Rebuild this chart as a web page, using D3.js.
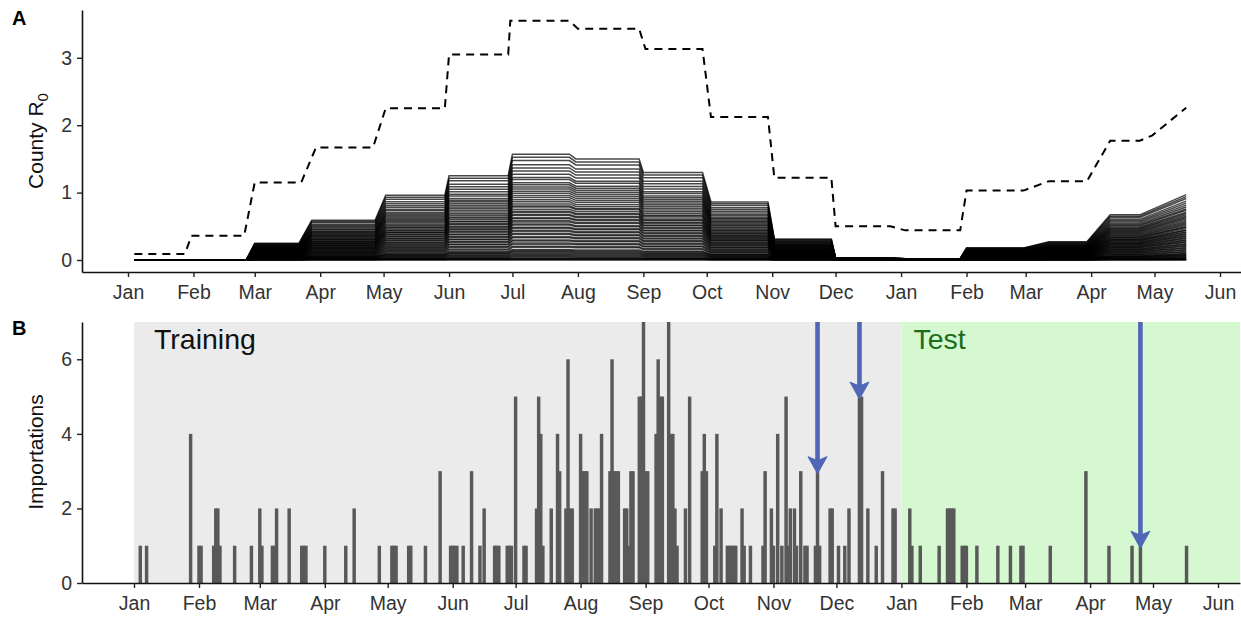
<!DOCTYPE html>
<html><head><meta charset="utf-8">
<script src="https://cdn.jsdelivr.net/npm/d3@7"></script>
<style>body{margin:0;background:#fff} svg{display:block}</style>
</head><body>
<svg id="c" width="1241" height="617"></svg>
<script>
// ---------------- DATA ----------------
// Panel A: dashed R0 curve (upper reference curve)
const r0MaxDates = ["2016-01-04","2016-01-28","2016-01-31","2016-02-25","2016-03-01","2016-03-23","2016-03-30","2016-04-26","2016-05-02","2016-05-30","2016-06-01","2016-06-29","2016-06-30","2016-07-28","2016-08-01","2016-08-30","2016-09-02","2016-09-29","2016-10-03","2016-10-30","2016-11-02","2016-11-29","2016-12-01","2016-12-27","2017-01-03","2017-01-29","2017-02-01","2017-02-28","2017-03-12","2017-03-30","2017-04-10","2017-04-24","2017-04-30","2017-05-16"];
const r0MaxValues = [0.09,0.09,0.36,0.36,1.15,1.15,1.67,1.67,2.25,2.25,3.05,3.05,3.55,3.55,3.43,3.43,3.13,3.13,2.12,2.12,1.22,1.22,0.50,0.50,0.44,0.44,1.03,1.03,1.17,1.17,1.77,1.77,1.85,2.26];
// Panel A: upper envelope of the county R0 curves
const countyEnvDates = ["2016-01-04","2016-02-26","2016-03-01","2016-03-22","2016-03-28","2016-04-27","2016-05-02","2016-05-30","2016-06-01","2016-06-29","2016-07-01","2016-07-28","2016-07-31","2016-08-30","2016-09-01","2016-09-29","2016-10-03","2016-10-30","2016-11-02","2016-11-29","2016-12-01","2016-12-27","2017-01-03","2017-01-29","2017-02-01","2017-02-28","2017-03-12","2017-03-30","2017-04-10","2017-04-24","2017-05-16"];
const countyEnvValues = [0,0,0.25,0.25,0.59,0.59,0.96,0.96,1.25,1.25,1.57,1.57,1.50,1.50,1.30,1.30,0.86,0.86,0.31,0.31,0.03,0.03,0.02,0.02,0.18,0.18,0.27,0.27,0.67,0.67,0.97];
// relative level of each county curve within the envelope
const countyShares = [1.00,0.97,0.94,0.90,0.87,0.84,0.81,0.78,0.76,0.73,0.71,0.69,0.67,0.65,0.63,0.61,0.59,0.57,0.55,0.53,0.51,0.50,0.48,0.46,0.45,0.43,0.42,0.40,0.39,0.37,0.36,0.34,0.33,0.31,0.30,0.28,0.27,0.25,0.24,0.22,0.21,0.19,0.18,0.16,0.15,0.13,0.12,0.10,0.09,0.08,0.07,0.06,0.05,0.04,0.03,0.02,0.015,0.01,0.005,0];

// Panel B: daily importations
const importDates = ["2016-01-04","2016-01-07","2016-01-28","2016-02-01","2016-02-02","2016-02-08","2016-02-09","2016-02-10","2016-02-11","2016-02-18","2016-02-26","2016-03-01","2016-03-02","2016-03-07","2016-03-08","2016-03-09","2016-03-15","2016-03-21","2016-03-22","2016-03-23","2016-04-01","2016-04-11","2016-04-15","2016-04-27","2016-05-03","2016-05-04","2016-05-05","2016-05-11","2016-05-12","2016-05-19","2016-05-26","2016-05-31","2016-06-01","2016-06-02","2016-06-03","2016-06-06","2016-06-10","2016-06-14","2016-06-16","2016-06-21","2016-06-22","2016-06-23","2016-06-27","2016-06-28","2016-06-29","2016-07-01","2016-07-05","2016-07-06","2016-07-11","2016-07-12","2016-07-13","2016-07-14","2016-07-18","2016-07-21","2016-07-22","2016-07-25","2016-07-26","2016-07-27","2016-07-28","2016-08-01","2016-08-02","2016-08-03","2016-08-04","2016-08-06","2016-08-08","2016-08-09","2016-08-10","2016-08-11","2016-08-15","2016-08-16","2016-08-17","2016-08-18","2016-08-19","2016-08-22","2016-08-23","2016-08-24","2016-08-25","2016-08-26","2016-08-29","2016-08-30","2016-08-31","2016-09-01","2016-09-02","2016-09-06","2016-09-07","2016-09-08","2016-09-09","2016-09-12","2016-09-13","2016-09-14","2016-09-15","2016-09-16","2016-09-20","2016-09-22","2016-09-28","2016-09-29","2016-09-30","2016-10-04","2016-10-05","2016-10-07","2016-10-10","2016-10-11","2016-10-12","2016-10-13","2016-10-14","2016-10-17","2016-10-18","2016-10-21","2016-10-27","2016-10-28","2016-10-31","2016-11-01","2016-11-03","2016-11-05","2016-11-07","2016-11-08","2016-11-09","2016-11-11","2016-11-12","2016-11-14","2016-11-16","2016-11-17","2016-11-21","2016-11-22","2016-11-23","2016-11-28","2016-11-29","2016-12-02","2016-12-05","2016-12-07","2016-12-12","2016-12-13","2016-12-16","2016-12-20","2016-12-23","2016-12-28","2016-12-29","2017-01-05","2017-01-06","2017-01-10","2017-01-19","2017-01-23","2017-01-24","2017-01-25","2017-01-26","2017-01-30","2017-01-31","2017-02-01","2017-02-06","2017-02-16","2017-02-22","2017-02-27","2017-02-28","2017-03-13","2017-03-30","2017-04-10","2017-04-21","2017-04-25","2017-05-17"];
const importCounts = [1,1,4,1,1,1,2,2,1,1,1,2,1,1,1,2,2,1,1,1,1,1,2,1,1,1,1,1,1,1,3,1,1,1,1,1,3,1,2,1,1,1,1,1,1,5,1,1,2,5,4,1,2,4,3,2,6,2,2,4,3,3,3,2,2,2,2,4,3,6,3,3,3,2,2,1,3,3,5,5,7,3,3,4,6,5,5,7,4,4,2,1,2,5,3,4,3,1,4,2,1,1,1,1,1,2,1,1,1,3,2,1,4,1,5,1,2,2,1,3,1,1,1,3,1,2,2,1,1,2,5,5,2,1,3,2,2,2,1,1,1,2,2,2,2,1,1,1,1,1,1,1,1,1,3,1,1,1,1];

const periodNames = ["Training", "Test"];
const periodStarts = ["2016-01-01", "2017-01-01"];
const arrowDates = ["2016-11-22", "2016-12-12", "2017-04-25"];
const arrowValues = [3, 5, 1];
const yTicksA = [0, 1, 2, 3];
const yTicksB = [0, 2, 4, 6];

// ---------------- CHART ----------------
const svg = d3.select("#c");
const P = d3.utcParse("%Y-%m-%d");
const FONT = "'Liberation Sans', Arial, Helvetica, sans-serif";

// Panel A scales
const xA0 = d3.scaleUtc().domain([P("2016-01-01"), P("2017-06-01")]).range([128, 1220]);
const xA = d3.scaleUtc().domain([xA0.invert(82), xA0.invert(1241)]).range([82, 1241]);
const yA0 = d3.scaleLinear().domain([0, 3]).range([260, 57.8]);
const yA = d3.scaleLinear().domain([yA0.invert(272), yA0.invert(10)]).range([272, 10]);

// Panel B scales
const xB0 = d3.scaleUtc().domain([P("2016-01-01"), P("2017-06-01")]).range([134, 1218]);
const xB = d3.scaleUtc().domain([xB0.invert(82), xB0.invert(1240)]).range([82, 1240]);
const yB = d3.scaleLinear().domain([0, 7]).range([583, 322]);

function styleAxis(g) {
  g.select(".domain").attr("stroke", "#111").attr("stroke-width", 1.6);
  g.selectAll(".tick line").attr("stroke", "#222").attr("stroke-width", 1.4);
  g.selectAll(".tick text").attr("fill", "#333").style("font-family", FONT).style("font-size", "19.5px");
}

// ---- Panel A ----
const gA = svg.append("g");
const lineA = d3.line().x(d => xA(d[0])).y(d => yA(d[1]));
const envDates = countyEnvDates.map(P);
countyShares.forEach(s => {
  const pts = envDates.map((d, i) => [d, countyEnvValues[i] * s]);
  gA.append("path").attr("d", lineA(pts)).attr("fill", "none")
    .attr("stroke", "#000").attr("stroke-opacity", 0.72).attr("stroke-width", 1.5);
});
const maxPts = r0MaxDates.map((d, i) => [P(d), r0MaxValues[i]]);
gA.append("path").attr("d", lineA(maxPts)).attr("fill", "none")
  .attr("stroke", "#000").attr("stroke-width", 2).attr("stroke-dasharray", "8,6");

const axA_x = gA.append("g").attr("transform", "translate(0,272)")
  .call(d3.axisBottom(xA).ticks(d3.utcMonth.every(1)).tickFormat(d3.utcFormat("%b")).tickSize(5).tickSizeOuter(0).tickPadding(8));
styleAxis(axA_x);
const axA_y = gA.append("g").attr("transform", "translate(82,0)")
  .call(d3.axisLeft(yA).tickValues(yTicksA).tickFormat(d3.format("d")).tickSize(5).tickSizeOuter(0).tickPadding(5));
styleAxis(axA_y);

const tA = gA.append("text").attr("transform", "translate(43,141) rotate(-90)")
  .attr("text-anchor", "middle").style("font-family", FONT).style("font-size", "21px").attr("fill", "#111");
tA.append("tspan").text("County R");
tA.append("tspan").text("0").attr("dy", "0.3em").style("font-size", "15px");

svg.append("text").attr("x", 12).attr("y", 25).text("A")
  .style("font-family", FONT).style("font-size", "20px").style("font-weight", "bold").attr("fill", "#000");

// ---- Panel B ----
const gB = svg.append("g");
const endB = xB.domain()[1];
const periodFills = ["#ebebeb", "#d6f8d0"];
const periodTextFill = ["#111", "#1d6b1d"];
const periodTextOffset = [20, 12];
periodNames.forEach((name, i) => {
  const s = P(periodStarts[i]);
  const e = i + 1 < periodStarts.length ? P(periodStarts[i + 1]) : endB;
  gB.append("rect").attr("x", xB(s)).attr("y", yB(7)).attr("width", xB(e) - xB(s)).attr("height", yB(0) - yB(7))
    .attr("fill", periodFills[i]);
  gB.append("text").attr("x", xB(s) + periodTextOffset[i]).attr("y", 349).text(name)
    .style("font-family", FONT).style("font-size", "28.5px").attr("fill", periodTextFill[i]);
});

gB.append("clipPath").attr("id", "clipB").append("rect")
  .attr("x", 82).attr("y", yB(7)).attr("width", 1240 - 82).attr("height", yB(0) - yB(7));
const dayPx = xB(P("2016-01-02")) - xB(P("2016-01-01"));
const barW = dayPx * 1.65;
gB.append("g").attr("clip-path", "url(#clipB)").selectAll("rect")
  .data(importDates.map((d, i) => ({ d: P(d), v: importCounts[i] })))
  .join("rect")
  .attr("x", o => xB(o.d) - barW / 2).attr("width", barW)
  .attr("y", o => yB(o.v)).attr("height", o => yB(0) - yB(o.v))
  .attr("fill", "#595959");

// arrows
const arrowCol = "#5066b6";
arrowDates.forEach((d, i) => {
  const x = xB(P(d));
  const tip = yB(arrowValues[i]) + 2.5;
  gB.append("line").attr("x1", x).attr("x2", x).attr("y1", yB(7)).attr("y2", tip - 12)
    .attr("stroke", arrowCol).attr("stroke-width", 4.6);
  gB.append("path").attr("d", `M${x},${tip} L${x - 9.5},${tip - 17} L${x},${tip - 13} L${x + 9.5},${tip - 17} Z`)
    .attr("fill", arrowCol).attr("stroke", arrowCol).attr("stroke-width", 1).attr("stroke-linejoin", "round");
});

const axB_x = gB.append("g").attr("transform", "translate(0,583)")
  .call(d3.axisBottom(xB).ticks(d3.utcMonth.every(1)).tickFormat(d3.utcFormat("%b")).tickSize(5).tickSizeOuter(0).tickPadding(8));
styleAxis(axB_x);
const axB_y = gB.append("g").attr("transform", "translate(82,0)")
  .call(d3.axisLeft(yB).tickValues(yTicksB).tickFormat(d3.format("d")).tickSize(5).tickSizeOuter(0).tickPadding(5));
styleAxis(axB_y);

gB.append("text").attr("transform", "translate(43,452) rotate(-90)")
  .attr("text-anchor", "middle").style("font-family", FONT).style("font-size", "21px").attr("fill", "#111")
  .text("Importations");

svg.append("text").attr("x", 12).attr("y", 335).text("B")
  .style("font-family", FONT).style("font-size", "20px").style("font-weight", "bold").attr("fill", "#000");
</script>
</body></html>
